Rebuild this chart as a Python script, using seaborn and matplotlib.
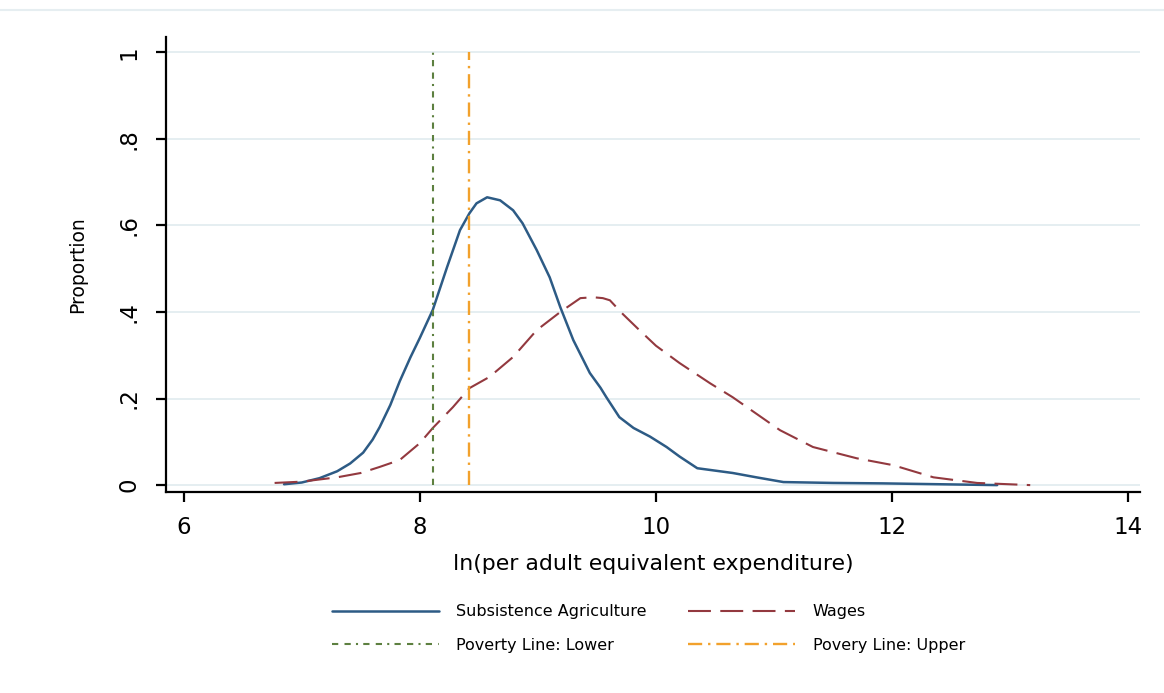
import numpy as np
import pandas as pd
import matplotlib
matplotlib.use("Agg")
import matplotlib.pyplot as plt
from matplotlib.lines import Line2D
import seaborn as sns

# ---- data ----
agri_x = [6.85, 7.0, 7.15, 7.3, 7.41, 7.52, 7.6, 7.66, 7.75, 7.83, 7.92, 8.0, 8.11, 8.23, 8.34,
          8.42, 8.48, 8.57, 8.68, 8.79, 8.87, 8.99, 9.10, 9.19, 9.30, 9.44, 9.53, 9.58, 9.69,
          9.81, 9.95, 10.09, 10.20, 10.35, 10.65, 10.85, 11.08, 11.5, 11.92, 12.4, 12.89]
agri_y = [0.002, 0.006, 0.016, 0.032, 0.05, 0.075, 0.105, 0.134, 0.185, 0.24, 0.295, 0.34,
          0.405, 0.503, 0.589, 0.628, 0.651, 0.665, 0.658, 0.635, 0.605, 0.543, 0.48, 0.411,
          0.335, 0.259, 0.225, 0.203, 0.157, 0.132, 0.112, 0.088, 0.066, 0.039, 0.028, 0.018,
          0.007, 0.005, 0.004, 0.002, 0.0]

wage_x = [6.77, 7.0, 7.3, 7.5, 7.66, 7.83, 8.0, 8.11, 8.28, 8.42, 8.59, 8.79, 8.99, 9.19, 9.36,
          9.47, 9.55, 9.61, 9.72, 9.86, 10.0, 10.2, 10.46, 10.65, 10.85, 11.05, 11.33, 11.7,
          12.01, 12.35, 12.72, 13.17]
wage_y = [0.005, 0.008, 0.018, 0.028, 0.042, 0.058, 0.097, 0.132, 0.18, 0.224, 0.25, 0.296,
          0.358, 0.40, 0.432, 0.434, 0.432, 0.427, 0.395, 0.358, 0.322, 0.282, 0.235, 0.203,
          0.165, 0.127, 0.088, 0.062, 0.046, 0.018, 0.005, 0.0]

poverty_lower = 8.11
poverty_upper = 8.415

x_ticks = [6, 8, 10, 12, 14]
y_ticks = [0, 0.2, 0.4, 0.6, 0.8, 1.0]
y_ticklabels = ["0", ".2", ".4", ".6", ".8", "1"]

labels = ["Subsistence Agriculture", "Wages", "Poverty Line: Lower", "Povery Line: Upper"]

# ---- style ----
sns.set_theme(style="white")
plt.rcParams["font.family"] = ["DejaVu Sans"]
plt.rcParams["text.color"] = "black"
plt.rcParams["axes.labelcolor"] = "black"
plt.rcParams["xtick.color"] = "black"
plt.rcParams["ytick.color"] = "black"

c_agri = "#2d5b85"
c_wage = "#93393f"
c_low = "#5d8040"
c_up = "#f2a12c"
c_grid = "#e3edf0"

fig = plt.figure(figsize=(11.64, 6.93), dpi=100)
ax = fig.add_axes([0.1426, 0.290, 0.8368, 0.6564])

for yv in y_ticks:
    ax.axhline(yv, color=c_grid, lw=1.3, zorder=0)

df_a = pd.DataFrame({"x": agri_x, "y": agri_y})
df_w = pd.DataFrame({"x": wage_x, "y": wage_y})
sns.lineplot(data=df_a, x="x", y="y", ax=ax, color=c_agri, lw=1.8, estimator=None, sort=False)
sns.lineplot(data=df_w, x="x", y="y", ax=ax, color=c_wage, lw=1.5, estimator=None, sort=False,
             linestyle=(0, (11, 4.5)))

low_ls = (0, (3, 3, 3, 2.5, 1, 2.5))
up_ls = (0, (6, 2.5, 1, 2.5))
ax.vlines(poverty_lower, 0, 1, color=c_low, lw=1.5, linestyles=[low_ls])
ax.vlines(poverty_upper, 0, 1, color=c_up, lw=1.7, linestyles=[up_ls])

ax.set_xlim(5.85, 14.10)
ax.set_ylim(-0.016, 1.035)
ax.set_xticks(x_ticks)
ax.set_xticklabels([str(t) for t in x_ticks])
ax.set_yticks(y_ticks)
ax.set_yticklabels(y_ticklabels, rotation=90, va="center")
ax.tick_params(axis="both", direction="out", length=7, width=1.6, color="black",
               labelcolor="black", labelsize=16.5, bottom=True, left=True)
ax.tick_params(axis="x", pad=10.5)
ax.tick_params(axis="y", pad=11.5)
ax.set_xlabel("ln(per adult equivalent expenditure)", fontsize=15.8, labelpad=10.5, color="black")
ax.set_ylabel("Proportion", fontsize=13.5, labelpad=22, color="black")

for s in ["top", "right"]:
    ax.spines[s].set_visible(False)
for s in ["left", "bottom"]:
    ax.spines[s].set_color("black")
    ax.spines[s].set_linewidth(1.6)

handles = [
    Line2D([], [], color=c_agri, lw=1.8),
    Line2D([], [], color=c_low, lw=1.5, linestyle=low_ls),
    Line2D([], [], color=c_wage, lw=1.5, linestyle=(0, (11, 4.5))),
    Line2D([], [], color=c_up, lw=1.7, linestyle=up_ls),
]
leg_labels = [labels[0], labels[2], labels[1], labels[3]]
fig.legend(handles, leg_labels, ncol=2, loc="center", bbox_to_anchor=(0.557, 0.093),
           frameon=False, fontsize=11.5, handlelength=6.7, handletextpad=1.1,
           columnspacing=2.6, labelspacing=1.18, labelcolor="black")

fig.add_artist(Line2D([0.0, 1.0], [0.986, 0.986], transform=fig.transFigure,
                      color="#e6eef1", lw=1.5))

fig.savefig("out.png", dpi=100, facecolor="white")
